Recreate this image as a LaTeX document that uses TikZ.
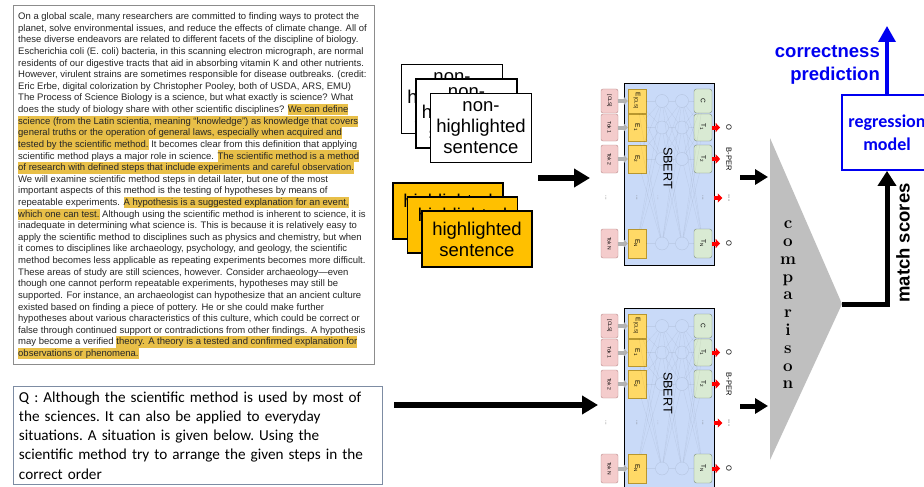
\documentclass[tikz,border=0pt]{standalone}
\usepackage{fontspec}
\usepackage{graphicx}
\usetikzlibrary{arrows.meta}
\newfontfamily\arial{Liberation Sans}
\newfontfamily\calib{Carlito}
\newcommand{\hlt}[1]{{\setlength{\fboxsep}{0pt}\colorbox{hlcol}{\rule[-2.9pt]{0pt}{11.5pt}#1}}}

\begin{document}
\begin{tikzpicture}[x=1pt, y=-1pt,
  pbox/.style={draw=black!45, line width=1.3pt, inner sep=0pt, minimum width=361pt, minimum height=359pt},
  ptext/.style={font=\arial\fontsize{9.5}{11.62}\selectfont, text=black!85, align=left, inner sep=0pt},
  qbox/.style={draw=qline, line width=1pt, text width=358pt, inner xsep=5.5pt, inner ysep=5pt, align=left, font=\calib\fontsize{15.2}{19.3}\selectfont\frenchspacing},
  nhcard/.style={draw, line width=1.6pt, fill=white, minimum width=101pt, minimum height=69pt, inner sep=0pt, align=center, font=\arial\fontsize{18.5}{21}\selectfont},
  hcard/.style={nhcard, fill=cardorg, minimum width=110pt, minimum height=56pt},
  blk/.style={draw, line width=.8pt, fill=sbblue, minimum width=90pt, minimum height=182pt, inner sep=0pt},
  tok/.style={draw=tokline, fill=tokpink, rounded corners=2pt, minimum width=17pt, inner sep=0pt, font=\arial\fontsize{5}{6}\selectfont},
  emb/.style={draw=embline, fill=embyel, minimum width=18pt, inner sep=0pt, font=\arial\fontsize{6.5}{7}\selectfont},
  tout/.style={draw=toutline, fill=toutgrn, rounded corners=2.5pt, minimum width=18pt, inner sep=0pt, font=\arial\fontsize{6.5}{7}\selectfont},
  hid/.style={circle, draw=black, draw opacity=.1, minimum size=13pt, inner sep=0pt},
  wire/.style={draw=black, draw opacity=.06, line width=.4pt},
  dotlbl/.style={inner sep=0pt, font=\arial\fontsize{6}{7}\selectfont, text=black!60},
  olbl/.style={inner sep=0pt, font=\arial\fontsize{7.5}{8}\selectfont},
  tokarr/.style={draw=black!30, line width=4pt, -{Triangle[length=4pt,width=8pt]}},
  redarr/.style={draw=red, line width=4pt, -{Triangle[length=4.5pt,width=9pt]}, shorten >=6pt},
  bigarr/.style={line width=5.5pt, -{Triangle[length=16pt,width=18pt]}},
  cmparr/.style={line width=5pt, -{Triangle[length=13pt,width=15pt]}},
  bluearr/.style={draw=regblue, line width=3.5pt, -{Triangle[length=16pt,width=17pt]}},
  regbox/.style={draw=regblue, line width=1.8pt, minimum width=90pt, minimum height=75pt, align=center, text=regblue, font=\calib\bfseries\fontsize{18}{23}\selectfont}]
\definecolor{hlcol}{HTML}{E8BF48}
\definecolor{qline}{HTML}{7D8CA3}
\definecolor{cardorg}{HTML}{FFC000}
\definecolor{sbblue}{HTML}{C9DAF8}
\definecolor{tokpink}{HTML}{F4CCCC}
\definecolor{tokline}{HTML}{B98A8A}
\definecolor{embyel}{HTML}{FFD966}
\definecolor{embline}{HTML}{B8962E}
\definecolor{toutgrn}{HTML}{D9EAD3}
\definecolor{toutline}{HTML}{7E8C7A}
\definecolor{cmpgray}{HTML}{BFBFBF}
\definecolor{regblue}{HTML}{0000F0}

\useasboundingbox (0,0) rectangle (924,487);
\clip (0,0) rectangle (924,487);
\fill[white] (0,0) rectangle (924,487);

% passage
\node[pbox, anchor=north west] (frame) at (13,5) {};
\node[ptext, anchor=north west] (psg) at (18,12.5) {%
On a global scale, many researchers are committed to finding ways to protect the\\
planet, solve environmental issues, and reduce the effects of climate change. All of\\
these diverse endeavors are related to different facets of the discipline of biology.\\
Escherichia coli (E. coli) bacteria, in this scanning electron micrograph, are normal\\
residents of our digestive tracts that aid in absorbing vitamin K and other nutrients.\\
However, virulent strains are sometimes responsible for disease outbreaks. (credit:\\
Eric Erbe, digital colorization by Christopher Pooley, both of USDA, ARS, EMU)\\
The Process of Science Biology is a science, but what exactly is science? What\\
does the study of biology share with other scientific disciplines? \hlt{We can define}\\
\hlt{science (from the Latin scientia, meaning “knowledge”) as knowledge that covers}\\
\hlt{general truths or the operation of general laws, especially when acquired and}\\
\hlt{tested by the scientific method.} It becomes clear from this definition that applying\\
scientific method plays a major role in science. \hlt{The scientific method is a method}\\
\hlt{of research with defined steps that include experiments and careful observation.}\\
We will examine scientific method steps in detail later, but one of the most\\
important aspects of this method is the testing of hypotheses by means of\\
repeatable experiments. \hlt{A hypothesis is a suggested explanation for an event,}\\
\hlt{which one can test.} Although using the scientific method is inherent to science, it is\\
inadequate in determining what science is. This is because it is relatively easy to\\
apply the scientific method to disciplines such as physics and chemistry, but when\\
it comes to disciplines like archaeology, psychology, and geology, the scientific\\
method becomes less applicable as repeating experiments becomes more difficult.\\
These areas of study are still sciences, however. Consider archaeology—even\\
though one cannot perform repeatable experiments, hypotheses may still be\\
supported. For instance, an archaeologist can hypothesize that an ancient culture\\
existed based on finding a piece of pottery. He or she could make further\\
hypotheses about various characteristics of this culture, which could be correct or\\
false through continued support or contradictions from other findings. A hypothesis\\
may become a verified \hlt{theory. A theory is a tested and confirmed explanation for}\\
\hlt{observations or phenomena.}};

% question
\node[qbox, anchor=north west] (qbox) at (13,386) {Q : Although the scientific method is used by most of\\
the sciences. It can also be applied to everyday\\
situations. A situation is given below. Using the\\
scientific method try to arrange the given steps in the\\
correct order\par\vspace*{15pt}};

% sentence cards
\node[nhcard] (nh1) at (452,99) {non-\\highlighted\\sentence};
\node[nhcard] (nh2) at (466.5,113.5) {non-\\highlighted\\sentence};
\node[nhcard] (nh3) at (481,128) {non-\\highlighted\\sentence};
\node[hcard] (hl1) at (448,211) {highlighted\\sentence};
\node[hcard] (hl2) at (462.5,225) {highlighted\\sentence};
\node[hcard] (hl3) at (477,239) {highlighted\\sentence};

% two sbert encoders
\foreach \dy/\nm in {0/a,225/b}{
\begin{scope}[shift={(0,\dy)}]
\node[blk] (\nm-blk) at (669,174) {};
\node[inner sep=0pt, font=\arial\fontsize{12.6}{14}\selectfont] (\nm-lbl) at (668,168) {\rotatebox{-90}{SBERT}};
\foreach \rw/\ry/\rh/\tk/\en/\tn in {0/101/24/{[CLS]}/{E\textsubscript{[CLS]}}/C,
    1/127.5/27/{Tok 1}/{E\textsubscript{1}}/{T\textsubscript{1}},
    2/159/28/{Tok 2}/{E\textsubscript{2}}/{T\textsubscript{2}},
    N/243.5/29/{Tok N}/{E\textsubscript{N}}/{T\textsubscript{N}}}{
  \node[tok, minimum height=\rh pt] (\nm-tok\rw) at (609.5,\ry) {\rotatebox{-90}{\tk}};
  \node[emb, minimum height=\rh pt] (\nm-e\rw) at (637,\ry) {\rotatebox{-90}{\en}};
  \node[tout, minimum height=\rh pt] (\nm-t\rw) at (703,\ry) {\rotatebox{-90}{\tn}};
  \node[hid] (\nm-ha\rw) at (662,\ry) {};
  \node[hid] (\nm-hb\rw) at (682,\ry) {};
  \draw[tokarr] (\nm-tok\rw) -- (\nm-e\rw);
}
\foreach \i in {0,1,2,N}{\foreach \j in {0,1,2,N}{
  \draw[wire] (\nm-e\i) -- (\nm-ha\j);
  \draw[wire] (\nm-ha\i) -- (\nm-hb\j);
  \draw[wire] (\nm-hb\i) -- (\nm-t\j);
}}
\node[dotlbl] (\nm-dtok) at (606,198) {\rotatebox{-90}{...}};
\node[dotlbl] (\nm-de) at (637,198) {\rotatebox{-90}{...}};
\node[dotlbl, opacity=.3] (\nm-dh) at (658,198) {\rotatebox{-90}{...}};
\node[dotlbl] (\nm-dt) at (703,198) {\rotatebox{-90}{...}};
\node[olbl] (\nm-o1) at (729,127.5) {\rotatebox{-90}{O}};
\node[olbl] (\nm-o2) at (729,159) {\rotatebox{-90}{B-PER}};
\node[olbl] (\nm-od) at (729,198) {\rotatebox{-90}{...}};
\node[olbl] (\nm-oN) at (729,243.5) {\rotatebox{-90}{O}};
\draw[redarr] (\nm-t1) -- (\nm-o1);
\draw[redarr] (\nm-t2) -- (\nm-o2);
\draw[redarr] (\nm-blk.east |- \nm-od) -- (\nm-od);
\draw[redarr] (\nm-tN) -- (\nm-oN);
\end{scope}
}

% inputs
\coordinate (ina) at (538,178);
\coordinate (enda) at (590,178);
\draw[bigarr] (ina) -- (enda);
\coordinate (inb) at (394,405);
\coordinate (endb) at (598,405);
\draw[bigarr] (inb) -- (endb);

% comparison
\fill[cmpgray] (770,138) -- (842,304) -- (770,460) -- cycle;
\coordinate (apex) at (842,304);
\node[inner sep=0pt, align=center, font=\bfseries\fontsize{17}{17.8}\selectfont] (cmp) at (788,305) {c\\o\\m\\p\\a\\r\\i\\s\\o\\n};
\coordinate (outa) at (740,177);
\coordinate (cmpa) at (768,177);
\draw[cmparr] (outa) -- (cmpa);
\coordinate (outb) at (740,406);
\coordinate (cmpb) at (768,406);
\draw[cmparr] (outb) -- (cmpb);

% regression
\node[regbox] (reg) at (887,132.5) {regression\\model};
\draw[line width=5pt, -{Triangle[length=15pt,width=18pt]}] (apex) -| (reg.south);
\node[inner sep=0pt, rotate=90, font=\arial\bfseries\fontsize{18.5}{22}\selectfont] (ms) at (903,243) {match scores};
\coordinate (pred) at (887,26);
\draw[bluearr] (reg.north) -- (pred);
\node[inner sep=0pt, anchor=east, align=right, text=regblue, font=\arial\bfseries\fontsize{18.5}{23}\selectfont] (corr) at (880,64.5) {correctness\\prediction};
\end{tikzpicture}
\end{document}
